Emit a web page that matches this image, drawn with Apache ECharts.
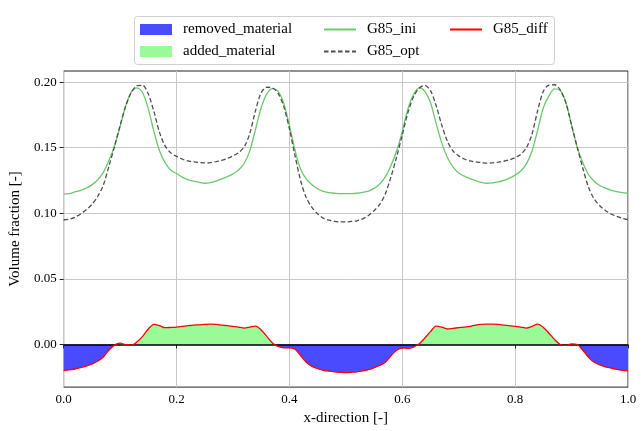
<!DOCTYPE html>
<html>
<head>
<meta charset="utf-8">
<script src="https://cdn.jsdelivr.net/npm/echarts@6/dist/echarts.min.js"></script>
<style>html,body{margin:0;padding:0;background:#fff;}#c{width:643px;height:431px;}</style>
</head>
<body>
<div id="c"></div>
<script>
const xs = [0.00,0.01,0.02,0.03,0.04,0.05,0.06,0.07,0.08,0.09,0.10,0.11,0.12,0.13,0.14,0.15,0.16,0.17,0.18,0.19,
0.20,0.21,0.22,0.23,0.24,0.25,0.26,0.27,0.28,0.29,0.30,0.31,0.32,0.33,0.34,0.35,0.36,0.37,0.38,0.39,
0.40,0.41,0.42,0.43,0.44,0.45,0.46,0.47,0.48,0.49,0.50,0.51,0.52,0.53,0.54,0.55,0.56,0.57,0.58,0.59,
0.60,0.61,0.62,0.63,0.64,0.65,0.66,0.67,0.68,0.69,0.70,0.71,0.72,0.73,0.74,0.75,0.76,0.77,0.78,0.79,
0.80,0.81,0.82,0.83,0.84,0.85,0.86,0.87,0.88,0.89,0.90,0.91,0.92,0.93,0.94,0.95,0.96,0.97,0.98,0.99,1.00];

const g85Ini = [0.1148,0.1150,0.1163,0.1175,0.1192,0.1217,0.1254,0.1310,0.1400,0.1512,
0.1660,0.1820,0.1926,0.1956,0.1919,0.1796,0.1623,0.1475,0.1384,0.1328,
0.1303,0.1276,0.1256,0.1246,0.1236,0.1229,0.1234,0.1246,0.1262,0.1280,
0.1300,0.1330,0.1382,0.1478,0.1640,0.1805,0.1910,0.1950,0.1930,0.1840,
0.1670,0.1480,0.1336,0.1261,0.1217,0.1187,0.1167,0.1158,0.1153,0.1150,
0.1150,0.1150,0.1153,0.1160,0.1170,0.1190,0.1224,0.1278,0.1365,0.1475,
0.1623,0.1796,0.1906,0.1956,0.1930,0.1845,0.1685,0.1537,0.1426,0.1352,
0.1308,0.1283,0.1264,0.1249,0.1236,0.1229,0.1232,0.1239,0.1251,0.1268,
0.1291,0.1323,0.1377,0.1475,0.1635,0.1805,0.1895,0.1948,0.1935,0.1845,
0.1670,0.1505,0.1385,0.1296,0.1245,0.1212,0.1192,0.1175,0.1165,0.1158,0.1153];

const g85Opt = [0.0951,0.0955,0.0970,0.0995,0.1027,0.1067,0.1126,0.1212,0.1356,0.1507,
0.1670,0.1818,0.1921,0.1973,0.1975,0.1910,0.1775,0.1615,0.1512,0.1460,
0.1434,0.1414,0.1399,0.1392,0.1387,0.1384,0.1387,0.1394,0.1404,0.1419,
0.1438,0.1463,0.1507,0.1611,0.1783,0.1919,0.1961,0.1956,0.1915,0.1815,
0.1645,0.1440,0.1248,0.1118,0.1045,0.0996,0.0963,0.0948,0.0938,0.0934,
0.0934,0.0938,0.0943,0.0958,0.0983,0.1020,0.1068,0.1148,0.1278,0.1430,
0.1597,0.1768,0.1888,0.1955,0.1975,0.1935,0.1822,0.1672,0.1549,0.1475,
0.1438,0.1414,0.1399,0.1392,0.1387,0.1382,0.1385,0.1390,0.1397,0.1408,
0.1425,0.1450,0.1500,0.1605,0.1785,0.1930,0.1978,0.1980,0.1940,0.1840,
0.1672,0.1505,0.1342,0.1200,0.1110,0.1058,0.1022,0.0995,0.0977,0.0962,0.0952];

const g85Diff = [-0.0199,-0.0194,-0.0187,-0.0177,-0.0165,-0.0150,-0.0128,-0.0098,-0.0044,-0.0005,
0.0010,-0.0002,-0.0005,0.0020,0.0062,0.0118,0.0153,0.0143,0.0128,0.0130,
0.0133,0.0138,0.0143,0.0148,0.0150,0.0153,0.0155,0.0153,0.0148,0.0143,
0.0138,0.0133,0.0125,0.0133,0.0140,0.0111,0.0062,0.0012,-0.0015,-0.0025,
-0.0025,-0.0037,-0.0086,-0.0135,-0.0167,-0.0185,-0.0197,-0.0204,-0.0209,-0.0212,
-0.0214,-0.0212,-0.0209,-0.0202,-0.0192,-0.0177,-0.0160,-0.0135,-0.0086,-0.0044,
-0.0027,-0.0030,-0.0020,0.0005,0.0049,0.0098,0.0140,0.0133,0.0118,0.0123,
0.0128,0.0133,0.0138,0.0148,0.0153,0.0155,0.0155,0.0153,0.0148,0.0143,
0.0138,0.0133,0.0125,0.0138,0.0155,0.0130,0.0086,0.0037,0.0000,-0.0007,
0.0005,0.0000,-0.0044,-0.0098,-0.0135,-0.0155,-0.0170,-0.0180,-0.0190,-0.0197,-0.0202];

const yTicks = [0, 0.05, 0.10, 0.15, 0.20];

const pairs = arr => xs.map((x, i) => [x, arr[i]]);
const removed = xs.map((x, i) => [x, Math.min(g85Diff[i], 0)]);
const added = xs.map((x, i) => [x, Math.max(g85Diff[i], 0)]);

const FONT = '"Liberation Serif", "DejaVu Serif", serif';
const chart = echarts.init(document.getElementById('c'), null, {renderer: 'canvas'});
const SM = 0.3;

const legendBase = {
  orient: 'horizontal', padding: 0, itemWidth: 32, itemHeight: 11,
  textStyle: {fontFamily: FONT, fontSize: 15, color: '#000', padding: [0, 0, 0, 6]},
  selectedMode: false
};
const lineLegend = {itemStyle: {opacity: 0, borderWidth: 0}};

chart.setOption({
  animation: false,
  backgroundColor: '#fff',
  grid: {left: 61, top: 71, width: 567, height: 326, show: true, borderColor: '#222', borderWidth: 1, backgroundColor: 'transparent'},
  graphic: [{
    type: 'rect', left: 134, top: 16, z: 0,
    shape: {width: 420, height: 48, r: 3},
    style: {fill: '#fff', stroke: '#d0d0d0', lineWidth: 1}
  }],
  legend: [
    Object.assign({}, legendBase, {left: 140, top: 22, data: [{name: 'removed_material', icon: 'rect'}]}),
    Object.assign({}, legendBase, {left: 140, top: 44, data: [{name: 'added_material', icon: 'rect'}]}),
    Object.assign({}, legendBase, lineLegend, {left: 323, top: 22, data: ['G85_ini']}),
    Object.assign({}, legendBase, lineLegend, {left: 323, top: 44, data: ['G85_opt']}),
    Object.assign({}, legendBase, lineLegend, {left: 449, top: 22, data: ['G85_diff']})
  ],
  xAxis: {
    type: 'value', min: 0, max: 1, interval: 0.2,
    name: 'x-direction [-]', nameLocation: 'middle', nameGap: 15,
    nameTextStyle: {fontFamily: FONT, fontSize: 15, color: '#000'},
    axisLine: {show: false},
    axisTick: {show: true, inside: false, length: 4, lineStyle: {color: '#222'}},
    axisLabel: {fontFamily: FONT, fontSize: 13, color: '#000', margin: 6, formatter: v => v.toFixed(1)},
    splitLine: {show: true, lineStyle: {color: '#c8c8c8', width: 1}}
  },
  yAxis: {
    type: 'value', min: -0.0325, max: 0.2085,
    name: 'Volume fraction [-]', nameLocation: 'middle', nameGap: 29,
    nameTextStyle: {fontFamily: FONT, fontSize: 15, color: '#000'},
    axisLine: {show: false},
    axisTick: {show: true, length: 4, lineStyle: {color: '#222'}, customValues: yTicks},
    axisLabel: {fontFamily: FONT, fontSize: 13, color: '#000', margin: 7, customValues: yTicks, formatter: v => v.toFixed(2)},
    splitLine: {show: true, lineStyle: {color: '#c8c8c8', width: 1}}
  },
  series: [
    {name: 'removed_material', type: 'line', data: removed, smooth: SM, symbol: 'none',
     itemStyle: {color: '#4a4aff'}, lineStyle: {width: 0, color: '#4a4aff'}, areaStyle: {color: '#4a4aff', opacity: 1}, z: 2},
    {name: 'added_material', type: 'line', data: added, smooth: SM, symbol: 'none',
     itemStyle: {color: '#98fb98'}, lineStyle: {width: 0, color: '#98fb98'}, areaStyle: {color: '#98fb98', opacity: 1}, z: 2},
    {name: 'G85_ini', type: 'line', data: pairs(g85Ini), smooth: SM, symbol: 'none',
     itemStyle: {color: '#6cc86c'}, lineStyle: {width: 1.3, color: '#6cc86c'}, z: 3},
    {name: 'G85_opt', type: 'line', data: pairs(g85Opt), smooth: SM, symbol: 'none',
     itemStyle: {color: '#4d4d4d'}, lineStyle: {width: 1.3, color: '#4d4d4d', type: [4.5, 2.5]}, z: 3},
    {name: 'G85_diff', type: 'line', data: pairs(g85Diff), smooth: SM, symbol: 'none',
     itemStyle: {color: '#ff0000'}, lineStyle: {width: 1.3, color: '#ff0000'}, z: 5,
     markLine: {silent: true, symbol: 'none', label: {show: false},
       lineStyle: {color: '#000', width: 1.5, type: 'solid'}, data: [{yAxis: 0}], z: 4}}
  ]
});
</script>
</body>
</html>
